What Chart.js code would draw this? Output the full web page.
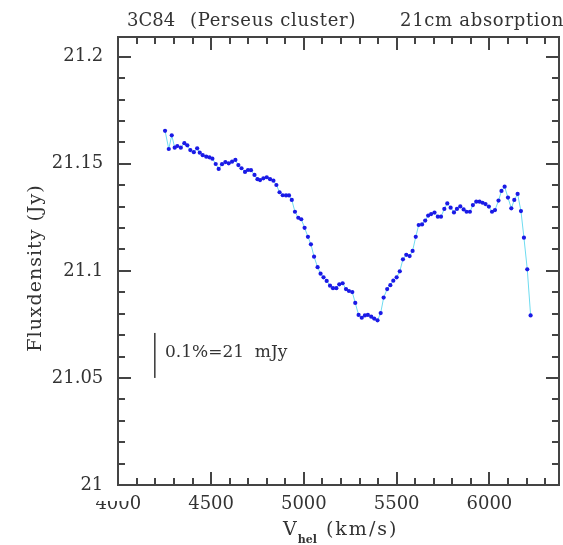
<!DOCTYPE html>
<html><head><meta charset="utf-8">
<script src="https://cdn.jsdelivr.net/npm/chart.js@4.4.1/dist/chart.umd.min.js"></script>
<style>html,body{margin:0;padding:0;background:#fff;}#wrap{width:563px;height:545px;}</style>
</head><body><div id="wrap"><canvas id="c" width="563" height="545"></canvas></div>
<script>
const velocity = [4252,4272,4288,4304,4318,4337,4356,4372,4388,4407,4425,4439,4455,4474,4491,4507,4525,4541,4559,4577,4595,4613,4631,4647,4664,4683,4699,4715,4734,4750,4764,4782,4800,4818,4836,4852,4869,4886,4904,4920,4935,4952,4970,4986,5004,5022,5038,5055,5074,5090,5106,5123,5141,5157,5175,5191,5209,5227,5243,5261,5277,5295,5312,5329,5345,5363,5379,5397,5414,5430,5449,5466,5482,5500,5517,5534,5552,5570,5586,5603,5619,5637,5654,5670,5686,5704,5722,5739,5757,5773,5791,5809,5825,5843,5861,5877,5895,5911,5929,5947,5963,5979,5997,6014,6030,6049,6065,6082,6100,6118,6134,6152,6170,6186,6204,6222];
const flux = [21.1654,21.1569,21.1633,21.1575,21.1583,21.1575,21.1596,21.1586,21.1564,21.1554,21.1572,21.1552,21.1540,21.1533,21.1530,21.1524,21.1499,21.1476,21.1498,21.1508,21.1502,21.1510,21.1518,21.1494,21.1479,21.1462,21.1471,21.1470,21.1448,21.1428,21.1424,21.1432,21.1437,21.1428,21.1421,21.1401,21.1367,21.1353,21.1352,21.1352,21.1331,21.1276,21.1248,21.1241,21.1201,21.1159,21.1124,21.1066,21.1017,21.0987,21.0970,21.0953,21.0931,21.0919,21.0919,21.0937,21.0942,21.0915,21.0906,21.0901,21.0850,21.0794,21.0781,21.0792,21.0794,21.0786,21.0777,21.0769,21.0803,21.0875,21.0915,21.0933,21.0954,21.0970,21.0998,21.1054,21.1075,21.1069,21.1093,21.1159,21.1214,21.1217,21.1235,21.1258,21.1265,21.1272,21.1253,21.1253,21.1289,21.1315,21.1295,21.1273,21.1289,21.1301,21.1287,21.1276,21.1276,21.1307,21.1323,21.1323,21.1318,21.1312,21.1300,21.1276,21.1284,21.1328,21.1373,21.1393,21.1342,21.1292,21.1331,21.1359,21.1279,21.1155,21.1007,21.0792];
const xTicks = [4000, 4500, 5000, 5500, 6000];
const yTicks = [21, 21.05, 21.1, 21.15, 21.2];
const xRange = [4000, 6375];
const yRange = [21, 21.2092];
const xMinorStep = 100, yMinorStep = 0.01;
const scaleBar = {x: 4197, from: 21.05, to: 21.071};
const scaleBarLabel = '0.1%=21  mJy';
const titleParts = ['3C84', '(Perseus cluster)', '21cm absorption'];
const yTitle = 'Fluxdensity (Jy)';
const xTitleMain = 'V', xTitleSub = 'hel', xTitleRest = ' (km/s)';

const FONT = '"DejaVu Serif", serif';
const INK = '#333';
const FRAME = '#444';
const yLabelOf = v => String(Math.round(v * 100) / 100);

const points = velocity.map((v, i) => ({x: v, y: flux[i]}));

const decor = {
  id: 'decor',
  afterDatasetsDraw(chart) {
    // white box of the "21" label (drawn before the y labels) hiding the top of "4000"
    const ctx = chart.ctx;
    ctx.save();
    ctx.fillStyle = '#fff';
    ctx.fillRect(72, 487, 57, 14);
    ctx.restore();
  },
  afterDraw(chart) {
    const ctx = chart.ctx, a = chart.chartArea;
    const xs = chart.scales.x, ys = chart.scales.y;
    ctx.save();
    ctx.fillStyle = FRAME;
    const L = Math.round(a.left), R = Math.round(a.right), T = Math.round(a.top), B = Math.round(a.bottom);
    for (let v = xRange[0]; v <= xRange[1] + 1e-6; v += xMinorStep) {
      const px = Math.round(xs.getPixelForValue(v));
      const major = Math.abs(v / 500 - Math.round(v / 500)) < 1e-6;
      const len = major ? 13 : 7;
      ctx.fillRect(px - 1, B - len, 2, len);
      ctx.fillRect(px - 1, T, 2, len);
    }
    for (let i = 0; i <= 20; i++) {
      const v = yRange[0] + i * yMinorStep;
      const py = Math.round(ys.getPixelForValue(v));
      const len = (i % 5 === 0) ? 13 : 7;
      ctx.fillRect(L, py - 1, len, 2);
      ctx.fillRect(R - len, py - 1, len, 2);
    }
    ctx.fillRect(L - 1, T - 1, R - L + 2, 2);
    ctx.fillRect(L - 1, B - 1, R - L + 2, 2);
    ctx.fillRect(L - 1, T - 1, 2, B - T + 2);
    ctx.fillRect(R - 1, T - 1, 2, B - T + 2);
    // scale bar
    const bx = Math.round(xs.getPixelForValue(scaleBar.x));
    const by1 = ys.getPixelForValue(scaleBar.to), by0 = ys.getPixelForValue(scaleBar.from);
    ctx.fillRect(bx - 1, by1, 1.6, by0 - by1);
    ctx.fillStyle = INK;
    ctx.font = '17px ' + FONT;
    ctx.textBaseline = 'alphabetic';
    ctx.textAlign = 'left';
    ctx.fillText(scaleBarLabel, bx + 10, 357);
    // title
    ctx.font = '18px ' + FONT;
    ctx.fillText(titleParts[0], 127, 26);
    ctx.letterSpacing = '0.7px';
    ctx.fillText(titleParts[1], 190, 26);
    ctx.fillText(titleParts[2], 400, 26);
    // x title
    ctx.letterSpacing = '0px';
    ctx.font = '19px ' + FONT;
    ctx.fillText(xTitleMain, 283, 535);
    const wV = ctx.measureText(xTitleMain).width;
    ctx.font = 'bold 11px ' + FONT;
    ctx.fillText(xTitleSub, 283 + wV + 1, 543);
    const wS = ctx.measureText(xTitleSub).width;
    ctx.font = '19px ' + FONT;
    ctx.letterSpacing = '2px';
    ctx.fillText(xTitleRest, 283 + wV + wS + 2, 535);
    // y title
    ctx.translate(36, 268);
    ctx.rotate(-Math.PI / 2);
    ctx.textAlign = 'center';
    ctx.textBaseline = 'middle';
    ctx.letterSpacing = '1px';
    ctx.fillText(yTitle, 0, 0);
    ctx.restore();
  }
};

new Chart(document.getElementById('c'), {
  type: 'line',
  data: {
    datasets: [{
      data: points,
      showLine: true,
      borderColor: 'rgb(110,220,240)',
      borderWidth: 1,
      tension: 0,
      pointRadius: 2.1,
      pointBorderWidth: 0,
      pointBackgroundColor: '#1a1ae6',
      fill: false
    }]
  },
  options: {
    responsive: false,
    animation: false,
    devicePixelRatio: 1,
    layout: {padding: {top: 37, right: 1.5, left: 0, bottom: 0}},
    plugins: {legend: {display: false}, tooltip: {enabled: false}, title: {display: false}},
    scales: {
      x: {
        type: 'linear', min: xRange[0], max: xRange[1],
        grid: {display: false, drawTicks: false}, border: {display: false},
        afterBuildTicks: s => { s.ticks = xTicks.map(v => ({value: v})); },
        afterFit: s => { s.height = 60; },
        ticks: {z: 0, autoSkip: false, maxRotation: 0, padding: 9, color: INK,
          font: {family: FONT, size: 18}, callback: v => String(v)}
      },
      y: {
        type: 'linear', min: yRange[0], max: yRange[1],
        grid: {display: false, drawTicks: false}, border: {display: false},
        afterBuildTicks: s => { s.ticks = yTicks.map(v => ({value: v})); },
        afterFit: s => { s.width = 118.3; },
        ticks: {z: 1, autoSkip: false, padding: 15, color: INK,
          font: {family: FONT, size: 18}, callback: yLabelOf}
      }
    }
  },
  plugins: [decor]
});
</script>
</body></html>
